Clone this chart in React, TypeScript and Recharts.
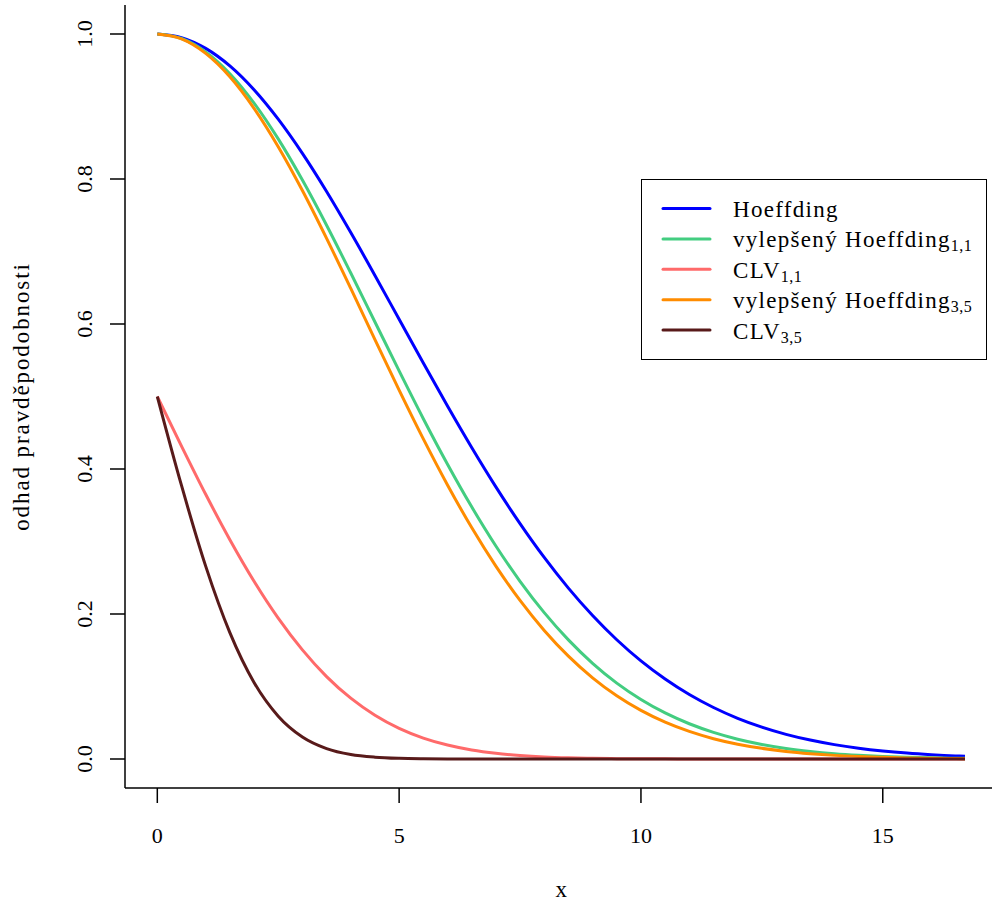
import React from "react";
import { LineChart, Line, XAxis, YAxis } from "recharts";

// x grid shared by every curve
const xs = [
  0, 0.5, 1, 1.5, 2, 2.5, 3, 3.5, 4, 4.5, 5, 5.5, 6, 6.5, 7, 7.5, 8, 8.5, 9, 9.5,
  10, 10.5, 11, 11.5, 12, 12.5, 13, 13.5, 14, 14.5, 15, 15.5, 16, 16.5, 16.7,
];

const hoeffding = [
  1, 0.995, 0.9802, 0.956, 0.9231, 0.8825, 0.8353, 0.7827, 0.7261, 0.667, 0.6065,
  0.5461, 0.4868, 0.4296, 0.3753, 0.3247, 0.278, 0.2357, 0.1979, 0.1645, 0.1353,
  0.1103, 0.0889, 0.071, 0.0561, 0.0439, 0.034, 0.0261, 0.0198, 0.0149, 0.0111,
  0.0082, 0.006, 0.0043, 0.0038,
];

const improved11 = [
  1, 0.9938, 0.9753, 0.9453, 0.9048, 0.8553, 0.7985, 0.7362, 0.6703, 0.6028, 0.5353,
  0.4694, 0.4066, 0.3478, 0.2938, 0.2451, 0.2019, 0.1643, 0.132, 0.1047, 0.0821,
  0.0635, 0.0486, 0.0367, 0.0273, 0.0201, 0.0146, 0.0105, 0.0074, 0.0052, 0.0036,
  0.0025, 0.0017, 0.0011, 0.0009,
];

const clv11 = [
  0.5, 0.4316, 0.3651, 0.3025, 0.2452, 0.1943, 0.1505, 0.1137, 0.0839, 0.0604, 0.0423,
  0.0289, 0.0193, 0.0125, 0.0079, 0.0049, 0.0029, 0.0017, 0.001, 0.0005, 0.0003,
  0.0002, 0.0001, 0, 0, 0, 0, 0, 0, 0, 0, 0, 0, 0, 0,
];

const improved35 = [
  1, 0.9933, 0.9733, 0.941, 0.8975, 0.8446, 0.7841, 0.7181, 0.649, 0.5785, 0.5088,
  0.4415, 0.378, 0.3192, 0.266, 0.2187, 0.1773, 0.1419, 0.112, 0.0872, 0.067,
  0.0508, 0.038, 0.028, 0.0204, 0.0147, 0.0104, 0.0073, 0.005, 0.0034, 0.0023,
  0.0015, 0.001, 0.0006, 0.0005,
];

const clv35 = [
  0.5, 0.3773, 0.266, 0.1743, 0.1056, 0.0591, 0.0304, 0.0144, 0.0062, 0.0025, 0.0009,
  0.0003, 0.0001, 0, 0, 0, 0, 0, 0, 0, 0, 0, 0, 0, 0, 0, 0, 0, 0, 0, 0, 0, 0, 0, 0,
];

const xTicks = [0, 5, 10, 15];
const yTicks = [0, 0.2, 0.4, 0.6, 0.8, 1.0];

const series = [
  { key: "hoeffding", name: "Hoeffding", sub: "", color: "#0000ff" },
  { key: "improved11", name: "vylepšený Hoeffding", sub: "1,1", color: "#43cd80" },
  { key: "clv11", name: "CLV", sub: "1,1", color: "#ff6a6a" },
  { key: "improved35", name: "vylepšený Hoeffding", sub: "3,5", color: "#ff8c00" },
  { key: "clv35", name: "CLV", sub: "3,5", color: "#581a1a" },
];

const data = xs.map((x, i) => ({
  x,
  hoeffding: hoeffding[i],
  improved11: improved11[i],
  clv11: clv11[i],
  improved35: improved35[i],
  clv35: clv35[i],
}));

const FONT = "Liberation Serif";
const textStyle = { fontFamily: FONT };

const XTick = (props: any) => {
  const { x, y, payload } = props;
  return (
    <text x={x} y={y + 16} textAnchor="middle" style={textStyle} fontSize={22} fill="#000">
      {payload.value}
    </text>
  );
};

const YTick = (props: any) => {
  const { x, y, payload } = props;
  const bx = x - 8;
  return (
    <text
      x={bx}
      y={y}
      transform={`rotate(-90, ${bx}, ${y})`}
      textAnchor="middle"
      style={textStyle}
      fontSize={22}
      fill="#000"
    >
      {Number(payload.value).toFixed(1)}
    </text>
  );
};

const XTitle = (props: any) => {
  const { viewBox } = props;
  const cx = viewBox.x + viewBox.width / 2;
  return (
    <text x={cx} y={897} textAnchor="middle" style={textStyle} fontSize={23} fill="#000">
      x
    </text>
  );
};

const YTitle = (props: any) => {
  const { viewBox } = props;
  const cy = viewBox.y + viewBox.height / 2;
  const bx = 29;
  return (
    <text
      x={bx}
      y={cy}
      transform={`rotate(-90, ${bx}, ${cy})`}
      textAnchor="middle"
      style={{ ...textStyle, letterSpacing: 1.9 }}
      fontSize={23}
      fill="#000"
    >
      odhad pravděpodobnosti
    </text>
  );
};

const LegendBox = () => (
  <div
    style={{
      position: "absolute",
      left: 641,
      top: 179,
      width: 346,
      height: 181,
      border: "1.5px solid #000",
      boxSizing: "border-box",
      background: "#fff",
    }}
  >
    <svg width={343} height={178} style={{ display: "block" }}>
      {series.map((s, i) => {
        const y = 28.5 + 30.4 * i;
        return (
          <g key={s.key}>
            <line x1={21} x2={68} y1={y} y2={y} stroke={s.color} strokeWidth={3} strokeLinecap="round" />
            <text
              x={91}
              y={y + 8.4}
              style={{ ...textStyle, letterSpacing: 1.3 }}
              fontSize={23}
              fill="#000"
            >
              {s.name}
              {s.sub ? (
                <tspan dy={4} fontSize={16} style={{ letterSpacing: 0.5 }}>
                  {s.sub}
                </tspan>
              ) : null}
            </text>
          </g>
        );
      })}
    </svg>
  </div>
);

export default function App() {
  return (
    <div
      style={{
        position: "absolute",
        left: 0,
        top: 0,
        width: 992,
        height: 907,
        overflow: "hidden",
        background: "#fff",
      }}
    >
      <LineChart
        width={1000}
        height={907}
        data={data}
        margin={{ top: 5, right: 2.7, bottom: 0, left: 0 }}
      >
        <XAxis
          dataKey="x"
          type="number"
          domain={[-0.668, 17.368]}
          allowDataOverflow
          ticks={xTicks}
          height={119}
          tickSize={15}
          tickMargin={24}
          stroke="#000"
          strokeWidth={1.5}
          tick={<XTick />}
          label={<XTitle />}
        />
        <XAxis
          xAxisId="top"
          dataKey="x"
          type="number"
          orientation="top"
          domain={[-0.668, 17.368]}
          allowDataOverflow
          height={0}
          tick={false}
          tickLine={false}
          stroke="#000"
          strokeWidth={1.5}
        />
        <YAxis
          type="number"
          domain={[-0.04, 1.04]}
          allowDataOverflow
          ticks={yTicks}
          width={125}
          tickSize={15}
          tickMargin={10}
          stroke="#000"
          strokeWidth={1.5}
          tick={<YTick />}
          label={<YTitle />}
        />
        <YAxis
          yAxisId="right"
          orientation="right"
          type="number"
          domain={[-0.04, 1.04]}
          width={0}
          tick={false}
          tickLine={false}
          stroke="#000"
          strokeWidth={1.5}
        />
        {series.map((s) => (
          <Line
            key={s.key}
            type="monotone"
            dataKey={s.key}
            stroke={s.color}
            strokeWidth={3}
            dot={false}
            activeDot={false}
            isAnimationActive={false}
          />
        ))}
      </LineChart>
      <LegendBox />
    </div>
  );
}
